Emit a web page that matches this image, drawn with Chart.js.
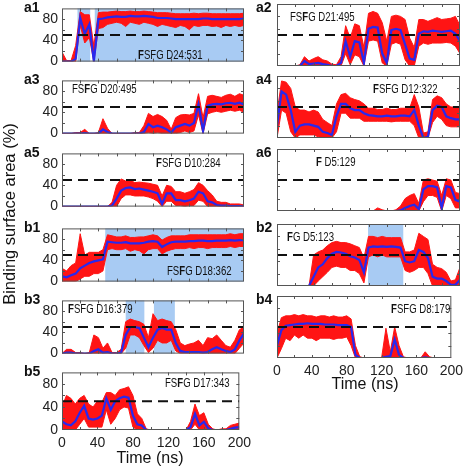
<!DOCTYPE html>
<html>
<head>
<meta charset="utf-8">
<script src="https://cdn.jsdelivr.net/npm/chart.js@4"></script>
<style>
body{margin:0;background:#fff}
#fig{position:relative;width:468px;height:468px;background:#fff;overflow:hidden;font-family:'Liberation Sans',Arial,sans-serif;color:#111}
.t{position:absolute;white-space:nowrap;line-height:1}
</style>
</head>
<body>
<div id="fig"></div>
<script>
// time axis, ns (samples every 5 ns)
let T = [0,5,10,15,20,25,30,35,40,45,50,55,60,65,70,75,80,85,90,95,100,105,110,115,120,125,130,135,140,145,150,155,160,165,170,175,180,185,190,195,200]

// a1
let a1Blue = [0,0,0,5,82,52,70,0,80,81,83,84,85,84,84,86,85,85,86,85,84,82,82,82,81,80,80,80,80,80,80,81,81,80,80,80,80,80,80,80,81]
let a1Hi = [18,2,2,30,94,88,88,30,92,93,93,94,95,94,94,95,94,94,95,94,93,92,92,92,91,90,90,90,90,91,90,91,91,90,90,90,90,90,90,90,91]
let a1Lo = [0,0,0,0,68,35,45,0,62,64,70,72,74,72,66,74,72,70,74,72,70,66,70,68,66,64,68,66,60,68,66,68,68,66,67,64,68,66,68,66,68]
let a1Shade = [[17,31],[36,200]]

// a2
let a2Blue = [0,0,0,0,0,0,8,3,4,5,3,2,0,0,5,40,15,40,38,5,60,63,62,20,5,58,60,58,35,12,10,52,56,55,57,56,55,56,57,52,40]
let a2Hi = [0,0,0,0,0,2,15,8,12,15,10,8,3,2,15,65,45,68,65,30,85,88,85,70,40,80,82,80,75,45,30,75,75,72,75,78,75,76,77,80,65]
let a2Lo = [0,0,0,0,0,0,0,0,0,0,0,0,0,0,0,20,2,18,15,0,40,42,40,5,0,35,38,35,10,0,0,32,37,35,37,37,37,38,37,32,20]

// a3
let a3Blue = [0,0,0,0,0,1,0,0,0,8,3,0,0,0,0,0,0,0,3,18,12,15,12,8,2,12,15,18,15,20,55,5,52,55,56,55,57,58,56,58,55]
let a3Hi = [0,0,0,2,2,8,0,0,2,28,10,0,0,0,0,0,2,2,15,38,32,36,32,25,8,30,35,36,35,38,75,30,70,72,70,68,72,74,70,75,72]
let a3Lo = [0,0,0,0,0,0,0,0,0,0,0,0,0,0,0,0,0,0,0,2,0,2,0,0,0,0,2,5,2,5,35,0,37,40,42,40,42,44,42,44,40]

// a4
let a4Blue = [20,75,70,45,10,20,22,22,20,18,10,8,5,35,55,55,48,45,45,40,37,36,35,35,36,35,35,36,36,35,45,20,0,2,45,52,50,35,32,30,30]
let a4Hi = [40,92,90,80,50,45,45,42,45,42,30,25,20,55,70,72,65,62,60,55,48,48,46,46,48,46,46,48,48,48,70,50,8,10,62,68,65,55,50,50,48]
let a4Lo = [0,45,40,10,0,5,5,5,5,2,0,0,0,10,40,40,32,32,32,27,27,27,27,27,27,26,27,27,27,27,20,0,0,0,25,35,30,20,18,18,18]

// a5
let a5Blue = [0,0,0,0,0,0,0,0,0,0,0,2,15,30,35,36,33,34,32,30,28,25,5,25,25,12,12,10,12,15,28,25,10,8,3,2,2,1,1,1,0]
let a5Hi = [0,0,0,0,0,0,0,0,0,0,0,8,40,52,48,50,45,46,45,44,42,40,20,40,38,28,28,25,28,32,45,40,30,22,10,8,8,5,5,5,3]
let a5Lo = [0,0,0,0,0,0,0,0,0,0,0,0,0,15,22,22,20,20,20,18,15,10,0,10,10,2,2,0,2,2,12,10,0,0,0,0,0,0,0,0,0]

// a6
let a6Blue = [0,0,0,0,0,0,0,0,0,0,0,0,0,0,0,0,0,0,0,0,0,0,0,0,0,0,0,1,5,8,10,3,35,40,40,38,5,40,38,18,15]
let a6Hi = [0,0,0,0,0,0,0,0,0,0,0,0,0,0,0,0,0,0,0,0,0,0,5,2,0,0,2,8,20,25,28,12,50,52,50,48,25,52,50,30,28]
let a6Lo = [0,0,0,0,0,0,0,0,0,0,0,0,0,0,0,0,0,0,0,0,0,0,0,0,0,0,0,0,0,0,0,0,15,25,25,22,0,25,20,5,5]

// b1
let b1Blue = [10,8,12,15,25,30,35,38,40,42,75,74,73,73,74,72,72,72,73,75,76,75,65,70,74,75,75,75,76,76,77,77,76,76,77,77,77,78,77,78,78]
let b1Hi = [25,20,30,35,90,50,55,55,55,60,88,86,84,84,86,83,83,84,84,86,88,86,78,83,86,86,86,86,88,88,88,88,88,88,88,88,88,90,88,90,90]
let b1Lo = [0,0,0,0,5,10,10,15,15,20,60,62,60,60,62,57,60,58,52,60,62,62,52,57,60,62,62,62,64,62,64,64,62,64,64,64,64,66,64,66,66]
let b1Shade = [[47.5,200]]

// b2
let b2Blue = [0,0,0,0,0,0,0,0,15,30,35,45,52,55,54,52,48,46,42,22,62,64,63,64,63,64,63,62,40,38,40,58,55,45,15,12,12,8,2,2,10]
let b2Hi = [0,0,0,0,0,0,0,0,50,55,58,65,70,72,70,70,68,65,62,45,80,80,78,80,78,78,78,78,55,55,58,85,80,75,35,30,28,22,8,10,30]
let b2Lo = [0,0,0,0,0,0,0,0,0,8,15,22,30,32,30,30,25,25,20,5,47,50,47,50,47,47,47,47,25,22,25,30,30,20,0,0,0,0,0,0,0]
let b2Shade = [[99.5,138]]

// b3
let b3Blue = [0,2,2,0,0,0,0,5,8,2,3,0,0,2,35,50,50,48,30,12,30,45,48,45,45,20,5,3,3,3,3,2,3,8,12,8,5,3,8,25,38]
let b3Hi = [0,8,8,2,2,0,2,35,30,10,20,2,2,8,60,65,62,60,55,30,75,62,65,62,60,45,20,15,18,20,25,15,30,28,35,25,15,12,25,45,50]
let b3Lo = [0,0,0,0,0,0,0,0,0,0,0,0,0,0,10,35,35,30,15,2,10,25,20,20,25,5,0,0,0,0,0,0,0,0,0,0,0,0,0,10,20]
let b3Shade = [[70,90.5],[101,124]]

// b4
let b4Blue = [20,45,52,53,54,55,55,56,55,55,55,54,54,54,53,53,53,50,5,0,0,0,0,0,0,2,3,30,5,0,0,0,0,0,1,0,0,0,0,0,0]
let b4Hi = [40,65,68,68,70,68,70,68,68,66,68,68,66,68,66,66,68,63,20,2,0,0,0,0,0,48,10,50,20,2,0,0,0,0,10,2,0,0,0,0,0]
let b4Lo = [0,15,32,28,37,32,37,32,32,28,32,32,32,30,32,32,34,20,0,0,0,0,0,0,0,0,0,0,0,0,0,0,0,0,0,0,0,0,0,0,0]

// b5
let b5Blue = [15,10,8,15,30,42,20,18,20,25,55,35,50,55,58,56,25,10,8,0,0,0,0,0,0,0,0,0,0,5,28,8,14,3,0,0,0,0,2,4,5]
let b5Hi = [40,60,55,45,55,60,45,40,50,48,65,65,60,70,72,75,60,28,20,2,0,0,0,0,0,0,0,0,0,15,45,25,30,10,2,0,2,2,8,10,12]
let b5Lo = [0,0,0,0,10,20,5,5,5,5,35,10,20,35,40,38,5,0,0,0,0,0,0,0,0,0,0,0,0,0,10,0,0,0,0,0,0,0,0,0,0]

let yTicks = [0,40,80]
let xTicks = [0,40,80,120,160,200]
let cutoff = 50


const RED = "#ff1414"
const BLUE = "#2828ee"
const SHADE = "#a8cbf3"
const FONT = "'Liberation Sans', Arial, sans-serif"

// column geometry: plot area left 62..244 and 277..460
const LEFT = {x:20, w:236, axisW:42, padR:12}
const RIGHT = {x:268, w:200, axisW:9, padR:8}
const PLOT_H = 62

let panels = [
{name:"a1", col:LEFT, top:4, blue:a1Blue, hi:a1Hi, lo:a1Lo, shade:a1Shade, note:"<b>F</b>SFG D24:531", nx:138, ny:59},
{name:"a3", col:LEFT, top:76, blue:a3Blue, hi:a3Hi, lo:a3Lo, shade:[], note:"FS<b>F</b>G D20:495", nx:72, ny:93},
{name:"a5", col:LEFT, top:149, blue:a5Blue, hi:a5Hi, lo:a5Lo, shade:[], note:"<b>F</b>SFG D10:284", nx:156, ny:167},
{name:"b1", col:LEFT, top:224, blue:b1Blue, hi:b1Hi, lo:b1Lo, shade:b1Shade, note:"FS<b>F</b>G D18:362", nx:167, ny:275},
{name:"b3", col:LEFT, top:296, blue:b3Blue, hi:b3Hi, lo:b3Lo, shade:b3Shade, note:"<b>F</b>SFG D16:379", nx:68, ny:313},
{name:"b5", col:LEFT, top:368, blue:b5Blue, hi:b5Hi, lo:b5Lo, shade:[], note:"FS<b>F</b>G D17:343", nx:165, ny:387, xlab:true},
{name:"a2", col:RIGHT, top:4, blue:a2Blue, hi:a2Hi, lo:a2Lo, shade:[], note:"FS<b>F</b>G D21:495", nx:290, ny:21},
{name:"a4", col:RIGHT, top:76, blue:a4Blue, hi:a4Hi, lo:a4Lo, shade:[], note:"<b>F</b>SFG D12:322", nx:373, ny:93},
{name:"a6", col:RIGHT, top:149, blue:a6Blue, hi:a6Hi, lo:a6Lo, shade:[], note:"<b>F</b> D5:129", nx:316, ny:166},
{name:"b2", col:RIGHT, top:224, blue:b2Blue, hi:b2Hi, lo:b2Lo, shade:b2Shade, note:"<b>F</b>G D5:123", nx:287, ny:241},
{name:"b4", col:RIGHT, top:296, blue:b4Blue, hi:b4Hi, lo:b4Lo, shade:[], note:"<b>F</b>SFG D8:179", nx:391, ny:313, xlab:true}
]


let fig = document.getElementById("fig")

// shaded time windows behind the traces
let shadePlugin = {
id:"shade",
beforeDatasetsDraw(chart, args, opts){
let a = chart.chartArea
let x = chart.scales.x
let ctx = chart.ctx
ctx.save()
ctx.fillStyle = SHADE
;(opts.regions || []).forEach(r => {
let x0 = x.getPixelForValue(r[0])
let x1 = x.getPixelForValue(r[1])
ctx.fillRect(x0, a.top, x1 - x0, a.height)
})
ctx.restore()
}
}

// box with inward ticks, matlab style
let framePlugin = {
id:"frame",
afterDatasetsDraw(chart){
let a = chart.chartArea
let x = chart.scales.x
let y = chart.scales.y
let ctx = chart.ctx
ctx.save()
ctx.strokeStyle = "#555"
ctx.lineWidth = 1
ctx.strokeRect(a.left + 0.5, a.top + 0.5, a.width - 1, a.height - 1)
ctx.beginPath()
for(let t = 20; t < 200; t += 20){
let px = Math.round(x.getPixelForValue(t)) + 0.5
ctx.moveTo(px, a.bottom); ctx.lineTo(px, a.bottom - 3)
ctx.moveTo(px, a.top); ctx.lineTo(px, a.top + 3)
}
for(let v = 20; v < 100; v += 20){
let py = Math.round(y.getPixelForValue(v)) + 0.5
ctx.moveTo(a.left, py); ctx.lineTo(a.left + 3, py)
ctx.moveTo(a.right, py); ctx.lineTo(a.right - 3, py)
}
ctx.stroke()
ctx.restore()
}
}


function pts(arr){
return T.map((t,i) => ({x:t, y:arr[i]}))
}

function addText(html, x, baseline, size, style){
let d = document.createElement("div")
d.className = "t"
d.innerHTML = html
d.style.cssText += "left:" + x + "px;top:" + (baseline - 0.86*size) + "px;font-size:" + size + "px;" + (style || "")
fig.appendChild(d)
return d
}


function drawPanel(p){

let col = p.col
let axisH = p.xlab ? 24 : 0
let w = col.w
let h = 8 + PLOT_H + axisH + 8

let cv = document.createElement("canvas")
cv.width = w
cv.height = h
cv.style.cssText = "position:absolute;left:" + col.x + "px;top:" + (p.top - 8) + "px;width:" + w + "px;height:" + h + "px"
fig.appendChild(cv)

new Chart(cv,{

type:"line",

data:{
datasets:[
{data:pts(p.hi), borderColor:RED, backgroundColor:RED, borderWidth:1, fill:"+1", pointRadius:0, order:3},
{data:pts(p.lo), borderColor:RED, borderWidth:1, fill:false, pointRadius:0, order:2},
{data:pts(p.blue), borderColor:BLUE, borderWidth:2.2, fill:false, pointRadius:0, order:1},
{data:[{x:0,y:cutoff},{x:200,y:cutoff}], borderColor:"#111", borderWidth:2, borderDash:[10,6], fill:false, pointRadius:0, order:0}
]
},

options:{
responsive:false,
animation:false,
events:[],
layout:{autoPadding:false, padding:{top:8, bottom:8, left:0, right:col.padR}},
plugins:{
legend:{display:false},
tooltip:{enabled:false},
shade:{regions:p.shade}
},
scales:{
x:{
type:"linear", min:0, max:200,
grid:{display:false, drawTicks:false},
border:{display:false},
ticks:{display:!!p.xlab, padding:5, color:"#222", font:{family:FONT, size:14}, maxRotation:0, autoSkip:false},
afterBuildTicks:s => { s.ticks = xTicks.map(v => ({value:v})) },
afterFit:s => { s.height = axisH }
},
y:{
min:0, max:100,
grid:{display:false, drawTicks:false},
border:{display:false},
ticks:{display:col === LEFT, padding:4, color:"#222", font:{family:FONT, size:14}},
afterBuildTicks:s => { s.ticks = yTicks.map(v => ({value:v})) },
afterFit:s => { s.width = col.axisW }
}
}
},

plugins:[shadePlugin, framePlugin]

})

// panel tag and run label (label font is a condensed sans in the original)
addText(p.name, col === LEFT ? 24 : 256, p.top + 8, 14, "font-weight:bold")
addText(p.note, p.nx, p.ny, 12, "transform:scaleX(0.8);transform-origin:0 0")

}

panels.forEach(drawPanel)

addText("Time (ns)", 150, 464, 16, "transform:translateX(-50%)")
addText("Time (ns)", 365, 390, 16, "transform:translateX(-50%)")

let yt = document.createElement("div")
yt.className = "t"
yt.textContent = "Binding surface area (%)"
yt.style.cssText += "left:9px;top:214px;font-size:16.5px;transform:translate(-50%,-50%) rotate(-90deg)"
fig.appendChild(yt)

</script>
</body>
</html>
